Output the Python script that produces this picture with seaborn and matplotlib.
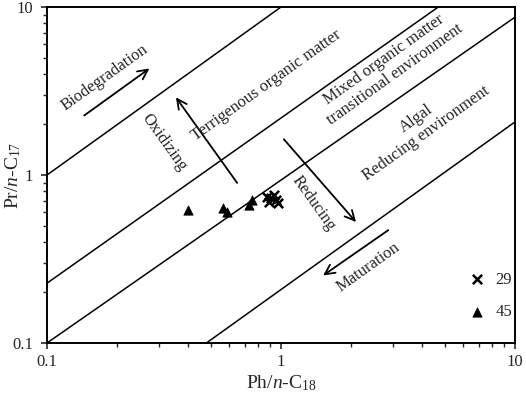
import pandas as pd
import seaborn as sns
import matplotlib.pyplot as plt

# sample values
tri_x = [0.40, 0.566, 0.589, 0.731, 0.753]
tri_y = [0.62, 0.636, 0.60, 0.663, 0.71]
cross_x = [0.871, 0.906, 0.934, 0.95, 0.97, 0.89]
cross_y = [0.74, 0.73, 0.76, 0.71, 0.68, 0.69]

# boundary lines (end points)
line_x = [[0.1, 1.0], [0.1, 4.7], [0.1, 10], [0.48, 10]]
line_y = [[1.0, 10], [0.227, 10], [0.1, 8.7], [0.1, 2.07]]

sns.set_style("ticks")
plt.rcParams['font.family'] = ['Liberation Serif', 'DejaVu Serif']
plt.rcParams['mathtext.fontset'] = 'custom'
plt.rcParams['mathtext.rm'] = 'Liberation Serif'
plt.rcParams['mathtext.it'] = 'Liberation Serif:italic'

crosses = pd.DataFrame({'x': cross_x, 'y': cross_y})
triangles = pd.DataFrame({'x': tri_x, 'y': tri_y})

fig = plt.figure(figsize=(5.26, 3.95), dpi=100)
ax = fig.add_axes([47 / 526, 1 - 343 / 395, 468 / 526, 336 / 395])

for lx, ly in zip(line_x, line_y):
    ax.plot(lx, ly, color='black', lw=1.1)

sns.scatterplot(data=crosses, x='x', y='y', marker='x', color='black', s=45,
                linewidth=1.8, label='29', ax=ax, zorder=3)
sns.scatterplot(data=triangles, x='x', y='y', marker='^', color='black', s=45,
                edgecolor='black', label='45', ax=ax, zorder=3)

ax.set_xscale('log')
ax.set_yscale('log')
ax.set_xlim(0.1, 10)
ax.set_ylim(0.1, 10)
ax.set_xticks([0.1, 1, 10], ['0.1', '1', '10'])
ax.set_yticks([0.1, 1, 10], ['0.1', '1', '10'])
ax.tick_params(which='major', length=4, width=1.2, labelsize=12, direction='out')
ax.tick_params(which='minor', length=3, width=1, direction='out')
ax.tick_params(axis='x', which='major', pad=4)
ax.tick_params(axis='y', which='major', pad=6)
for sp in ax.spines.values():
    sp.set_linewidth(1.4)
    sp.set_color('black')

ax.set_xlabel(r'Ph/$n$-C$_{18}$', fontsize=14)
ax.set_ylabel(r'Pr/$n$-C$_{17}$', fontsize=14)
ax.xaxis.set_label_coords(0.5, -0.09)
ax.yaxis.set_label_coords(-0.052, 0.5)

arrow = dict(arrowstyle='->,head_length=0.7,head_width=0.35', lw=1.3, color='black')
arrows = [((0.141, 2.21), (0.28, 4.4)),
          ((0.66, 0.87), (0.35, 2.99)),
          ((1.01, 1.68), (2.13, 0.51)),
          ((2.94, 0.48), (1.48, 0.247))]
for tail, head in arrows:
    ax.annotate('', xy=head, xytext=tail, arrowprops=arrow)

rot = 35.5
txt = dict(ha='center', va='center', rotation_mode='anchor', fontsize=12,
           multialignment='center', linespacing=1.15)
ax.text(0.177, 3.77, 'Biodegradation', rotation=rot, **txt)
ax.text(0.87, 3.43, 'Terrigenous organic matter', rotation=rot, **txt)
ax.text(2.91, 4.39, 'Mixed organic matter\ntransitional environment', rotation=rot, **txt)
ax.text(3.98, 1.96, 'Algal\nReducing environment', rotation=rot, **txt)
ax.text(2.37, 0.283, 'Maturation', rotation=rot, **txt)
ax.text(0.318, 1.57, 'Oxidizing', rotation=rot - 90, **txt)
ax.text(1.38, 0.68, 'Reducing', rotation=rot - 90, **txt)

ax.legend(loc='center', bbox_to_anchor=(0.947, 0.14), frameon=False,
          fontsize=12, handlelength=1, handletextpad=0.6, labelspacing=1.0)

fig.savefig('out.png', dpi=100)
